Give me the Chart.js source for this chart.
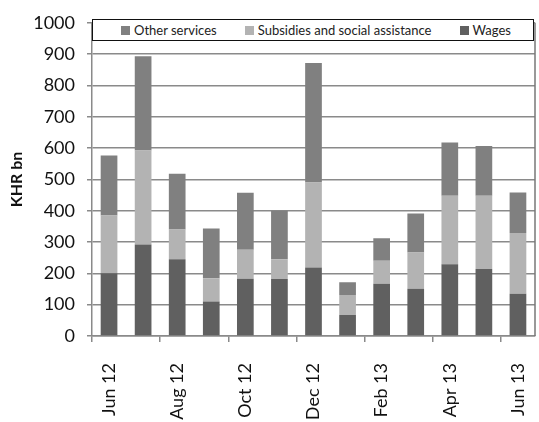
<!DOCTYPE html>
<html lang="en">
<head>
  <meta charset="UTF-8" />
  <title>Spending</title>
  <script src="https://cdn.jsdelivr.net/npm/chart.js"></script>
  <style>
    body { margin: 0; background: #fff; }
    #wrap { position: relative; width: 539px; height: 422px; }
    #legend {
      position: absolute; left: 92px; top: 19px; width: 442px; height: 22px;
      border: 1.5px solid #111; background: #fff;
      font: 13px Lato, sans-serif; color: #222;
      display: flex; align-items: center; justify-content: space-around;
      padding: 0 8px 0 14px; box-sizing: border-box;
    }
    #legend span.box { display: inline-block; width: 9px; height: 9px; margin-right: 4px; }
  </style>
</head>
<body>
  <div id="wrap">
    <canvas id="chart" width="539" height="422"></canvas>
    <div id="legend"></div>
  </div>

  <script>
    const months = ['Jun 12', 'Jul 12', 'Aug 12', 'Sep 12', 'Oct 12', 'Nov 12', 'Dec 12',
                    'Jan 13', 'Feb 13', 'Mar 13', 'Apr 13', 'May 13', 'Jun 13'];
    const wages     = [200, 292, 245, 110, 183, 182, 219, 67, 167, 151, 229, 214, 135];
    const subsidies = [185, 300, 95, 74, 92, 63, 271, 64, 73, 116, 219, 234, 194];
    const other     = [191, 301, 178, 159, 182, 155, 382, 41, 72, 124, 170, 159, 129];

    const gridGray = '#8a8a8a';

    // right edge of the plot area
    const frame = {
      id: 'frame',
      afterDraw(chart) {
        const { ctx, chartArea } = chart;
        ctx.save();
        ctx.strokeStyle = '#777';
        ctx.lineWidth = 1.5;
        ctx.beginPath();
        ctx.moveTo(chartArea.right, chartArea.top);
        ctx.lineTo(chartArea.right, chartArea.bottom);
        ctx.stroke();
        ctx.restore();
      }
    };

    const chart = new Chart(document.getElementById('chart'), {
      type: 'bar',
      data: {
        labels: months,
        datasets: [
          { label: 'Wages', data: wages, backgroundColor: '#606060' },
          { label: 'Subsidies and social assistance', data: subsidies, backgroundColor: '#b3b3b3' },
          { label: 'Other services', data: other, backgroundColor: '#808080' }
        ]
      },
      options: {
        responsive: false,
        animation: false,
        layout: { padding: { top: 6, right: 4, left: 0, bottom: 0 } },
        datasets: { bar: { categoryPercentage: 1, barPercentage: 0.49 } },
        plugins: { legend: { display: false }, tooltip: { enabled: false } },
        scales: {
          x: {
            stacked: true,
            afterFit: s => { s.height = 86; s.paddingLeft = 0; s.paddingRight = 0; },
            grid: {
              drawOnChartArea: false, offset: true, tickLength: 6,
              color: c => c.index % 2 === 0 ? gridGray : 'rgba(0,0,0,0)',
              lineWidth: 1.5
            },
            border: { color: gridGray, width: 1.5 },
            ticks: {
              autoSkip: false, maxRotation: 90, minRotation: 90, padding: 21,
              color: '#111', font: { family: 'Lato', size: 18 },
              callback: (v, i) => i % 2 === 0 ? months[i] : ''
            }
          },
          y: {
            stacked: true, min: 0, max: 1000,
            afterFit: s => { s.width = 92; },
            grid: { color: gridGray, lineWidth: 1.5, tickLength: 5 },
            border: { color: gridGray, width: 1.5 },
            ticks: { stepSize: 100, padding: 12, color: '#111', font: { family: 'Lato', size: 18 },
                     callback: v => String(v) },
            title: { display: true, text: 'KHR bn', color: '#111', padding: { top: 7, bottom: 4 },
                     font: { family: 'Lato', size: 16, weight: 'bold' } }
          }
        }
      },
      plugins: [frame]
    });

    // legend, in reverse of stacking order
    const legend = document.getElementById('legend');
    chart.data.datasets.slice().reverse().forEach(ds => {
      const item = document.createElement('div');
      item.innerHTML = '<span class="box" style="background:' + ds.backgroundColor + '"></span>' + ds.label;
      legend.appendChild(item);
    });
  </script>
</body>
</html>
